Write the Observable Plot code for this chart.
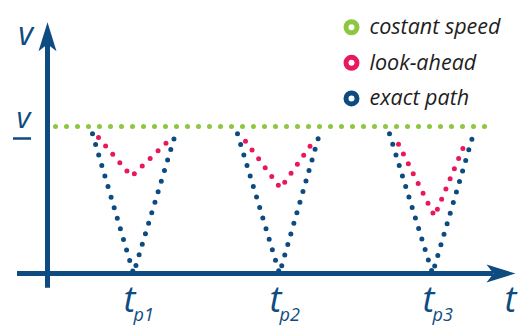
<!DOCTYPE html>
<html>
<head>
<meta charset="utf-8">
<script src="https://cdn.jsdelivr.net/npm/d3@7"></script>
<script src="https://cdn.jsdelivr.net/npm/@observablehq/plot@0.6"></script>
<style>
  body { margin: 0; background: #fff; }
  #chart svg { display: block; }
</style>
</head>
<body>
<div id="chart"></div>
<script>
// Reference speed and the speed each exact-path dip starts from
const V = 10;
const exactTop = 9.5;

// Pass times t_p1, t_p2, t_p3 and their subscripts
const passTimes = [8.6, 23.2, 38.5];
const passLabels = ["p1", "p2", "p3"];

// Exact path: speed falls to zero at each pass time
const exactStart = [4.5, 19.0, 34.2];
const exactEnd = [12.8, 27.2, 42.6];

// Look-ahead: shallower dips
const aheadStartT = [5.1, 19.8, 35.1];
const aheadStartV = [9.25, 9.0, 8.8];
const aheadMinT = [8.4, 23.3, 38.7];
const aheadMinV = [6.6, 5.8, 3.9];
const aheadEndT = [12.2, 26.5, 41.9];
const aheadEndV = [9.1, 8.9, 9.1];

// Constant speed span
const speedSpan = [0.8, 43.8];

// Axes extents (start, arrow tip)
const tAxis = [-3, 46.8];
const vAxis = [-1.0, 17.1];

const legendNames = ["costant speed", "look-ahead", "exact path"];

const colors = {
  constant: "#8dc63f",
  ahead: "#e8185a",
  exact: "#0d4a7f",
  axis: "#0e4b80",
  text: "#1e1e1e"
};
const legendColors = [colors.constant, colors.ahead, colors.exact];
const font = "'Open Sans', 'DejaVu Sans', sans-serif";

const exactPath = passTimes.flatMap((tp, i) => [
  {dip: i, t: exactStart[i], v: exactTop},
  {dip: i, t: tp, v: 0},
  {dip: i, t: exactEnd[i], v: exactTop}
]);
const lookAhead = passTimes.flatMap((tp, i) => [
  {dip: i, t: aheadStartT[i], v: aheadStartV[i]},
  {dip: i, t: aheadMinT[i], v: aheadMinV[i]},
  {dip: i, t: aheadEndT[i], v: aheadEndV[i]}
]);
const constant = speedSpan.map(t => ({t, v: V}));

const legend = legendNames.map((name, i) => ({name, color: legendColors[i], t: 30.4, v: 16.75 - i * 2.42}));

// Swept arrowheads, drawn from the tip
const arrowUp = {draw(ctx) {
  ctx.moveTo(0, 0); ctx.lineTo(9, 29); ctx.lineTo(0, 22); ctx.lineTo(-9, 29); ctx.closePath();
}};
const arrowRight = {draw(ctx) {
  ctx.moveTo(0, 0); ctx.lineTo(-29, -9); ctx.lineTo(-22, 0); ctx.lineTo(-29, 9); ctx.closePath();
}};

const dotted = {strokeWidth: 5, strokeLinecap: "round", strokeDasharray: "0,11"};
const axisText = {fontStyle: "italic", fontWeight: 500, fontFamily: font, fill: colors.axis};

const chart = Plot.plot({
  width: 522,
  height: 329,
  margin: 0,
  x: {domain: [-4.7, 47.5], axis: null},
  y: {domain: [0, 10], range: [273, 126], axis: null},
  marks: [
    // axes
    Plot.ruleY([0], {x1: tAxis[0], x2: tAxis[1] - 2.2, stroke: colors.axis, strokeWidth: 5}),
    Plot.ruleX([0], {y1: vAxis[0], y2: vAxis[1] - 1.5, stroke: colors.axis, strokeWidth: 5}),
    Plot.dot([{t: 0, v: vAxis[1]}], {x: "t", y: "v", symbol: arrowUp, fill: colors.axis, stroke: "none"}),
    Plot.dot([{t: tAxis[1], v: 0}], {x: "t", y: "v", symbol: arrowRight, fill: colors.axis, stroke: "none"}),

    // series
    Plot.line(constant, {x: "t", y: "v", stroke: colors.constant, ...dotted}),
    Plot.line(exactPath, {x: "t", y: "v", z: "dip", stroke: colors.exact, ...dotted}),
    Plot.line(lookAhead, {x: "t", y: "v", z: "dip", stroke: colors.ahead, ...dotted}),

    // axis labels
    Plot.text(["v"], {x: -2.2, y: vAxis[1], dy: 13, fontSize: 32, ...axisText}),
    Plot.text(["v"], {x: -2.4, y: V, dy: -8, fontSize: 30, ...axisText}),
    Plot.ruleY([V], {x1: -3.4, x2: -1.6, dy: 12, stroke: colors.axis, strokeWidth: 2.5}),
    Plot.text(["t"], {x: tAxis[1], y: 0, dx: -5, dy: 27, fontSize: 36, ...axisText}),
    Plot.text(passTimes, {x: d => d, y: 0, text: () => "t", dx: -4, dy: 27, fontSize: 36, ...axisText}),
    Plot.text(passTimes, {x: d => d, y: 0, text: (d, i) => passLabels[i], textAnchor: "start", dx: 0, dy: 42, fontSize: 18, ...axisText, fontWeight: 400}),

    // legend
    Plot.dot(legend, {x: "t", y: "v", r: 5.5, fill: "white", stroke: "color", strokeWidth: 5}),
    Plot.text(legend, {x: "t", y: "v", text: "name", textAnchor: "start", dx: 18, dy: 0, fontSize: 21.5, fontStyle: "italic", fontFamily: font, fill: colors.text})
  ]
});

document.getElementById("chart").append(chart);
</script>
</body>
</html>
